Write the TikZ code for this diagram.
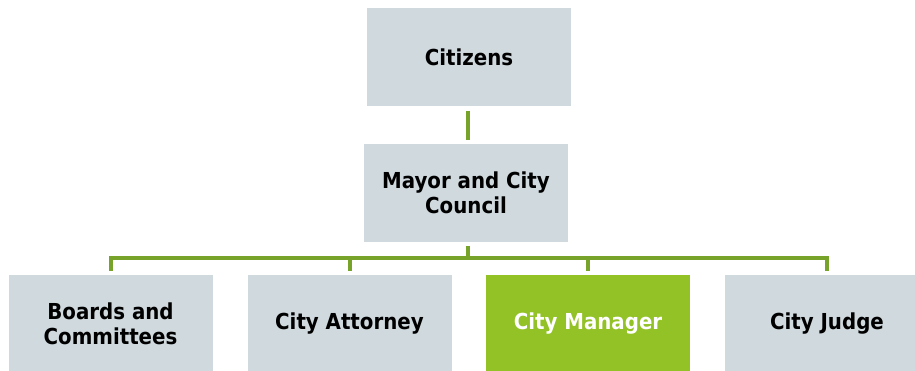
\documentclass[tikz,border=0pt]{standalone}
\usepackage{fontspec}
\setmainfont{DejaVu Sans Condensed}
\usetikzlibrary{positioning}
\definecolor{boxgray}{RGB}{207,217,222}
\definecolor{mgrgreen}{RGB}{147,194,38}
\definecolor{linegreen}{RGB}{119,163,42}
\tikzset{
  unit/.style={rectangle, fill=boxgray, minimum width=204pt, minimum height=98pt,
    inner sep=0pt, align=center, font=\fontsize{22}{25}\selectfont\bfseries},
  chosen/.style={unit, fill=mgrgreen, text=white},
  link/.style={draw=linegreen, line width=4pt, shorten >=4pt}
}

\begin{document}
\begin{tikzpicture}[x=1pt,y=-1pt]
  \useasboundingbox (0,0) rectangle (915,371);
  \clip (0,0) rectangle (915,371);
  \node[unit] (cit) at (469,57.5) {Citizens};
  \node[unit] (mayor) at (466,193) {Mayor and City\\Council};
  \node[unit] (boards) at (110.5,324) {Boards and\\Committees};
  \node[unit] (atty) at (349.5,324) {City Attorney};
  \node[chosen] (mgr) at (588,324) {City Manager};
  \node[unit] (judge) at (827,324) {City Judge};
  \coordinate (bar) at (468,258.5);
  % lines
  \draw[link, shorten <=4pt] (cit.south -| bar) -- (mayor.north -| bar);
  \draw[link, shorten <=4pt, shorten >=0pt] (mayor.south -| bar) -- (bar);
  \draw[link] (bar) -| (boards.north);
  \draw[link] (bar) -| (atty.north);
  \draw[link] (bar) -| (mgr.north);
  \draw[link] (bar) -| (judge.north);
\end{tikzpicture}
\end{document}
